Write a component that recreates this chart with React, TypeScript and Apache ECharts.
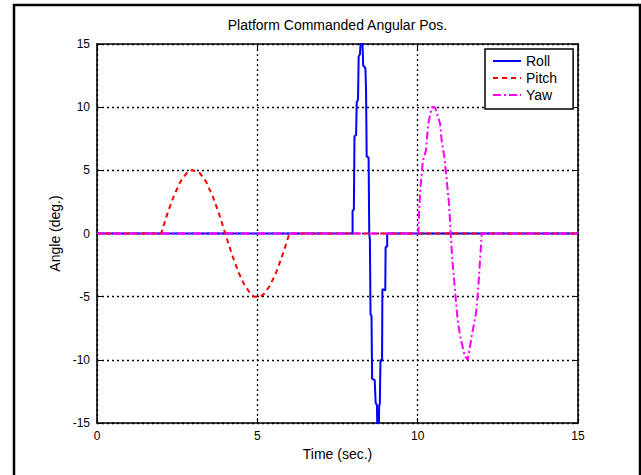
import React, { useEffect, useRef } from "react";
import * as echarts from "echarts";

const xTicks = [0, 5, 10, 15];
const yTicks = [-15, -10, -5, 0, 5, 10, 15];

const rollTime = [0, 7.97, 7.97, 8.01, 8.03, 8.08, 8.1, 8.14, 8.16, 8.2, 8.22, 8.28, 8.3, 8.37, 8.39, 8.41, 8.47, 8.49, 8.51, 8.53, 8.56, 8.58, 8.66, 8.69, 8.73, 8.74, 8.79, 8.8, 8.82, 8.84, 8.89, 8.9, 8.99, 9.0, 9.05, 9.05, 15];
const rollAngle = [0, 0, 1.8, 1.9, 7.7, 7.8, 10.4, 10.6, 14.0, 14.2, 15, 15, 13.3, 13.1, 11.4, 6.1, 6.0, 0, -0.5, -6.4, -6.5, -11.5, -11.6, -13.4, -13.6, -15.2, -15.2, -13.6, -13.5, -10.0, -10.1, -4.4, -4.5, -1.1, -1.0, 0, 0];

const pitchTime = [0, 2.0, 2.2, 2.4, 2.6, 2.8, 2.9, 3.0, 3.2, 3.4, 3.6, 3.8, 4.0, 4.2, 4.4, 4.6, 4.8, 4.9, 5.0, 5.1, 5.2, 5.4, 5.6, 5.8, 6.0, 15];
const pitchAngle = [0, 0, 1.6, 3.0, 4.1, 4.8, 5.0, 5.0, 4.8, 4.1, 3.0, 1.6, 0, -1.6, -3.0, -4.1, -4.8, -5.0, -5.0, -5.0, -4.8, -4.1, -3.0, -1.6, 0, 0];

const yawTime = [0, 10.02, 10.05, 10.09, 10.16, 10.26, 10.33, 10.44, 10.54, 10.7, 10.75, 10.83, 10.9, 10.98, 11.03, 11.08, 11.16, 11.24, 11.32, 11.47, 11.56, 11.68, 11.82, 11.89, 11.94, 12.0, 15];
const yawAngle = [0, 0, 2.0, 3.7, 5.7, 6.6, 8.7, 10.0, 10.0, 8.7, 7.3, 6.1, 4.4, 2.3, 0, -2.05, -4.4, -6.65, -8.1, -9.7, -10.0, -8.2, -6.3, -4.3, -2.3, 0, 0];

const FONT = "'Liberation Sans', Arial, sans-serif";

function pairs(t: number[], v: number[]) {
  return t.map((x, i) => [x, v[i]]);
}

export default function App() {
  const ref = useRef<HTMLDivElement>(null);
  useEffect(() => {
    if (!ref.current) return;
    const chart = echarts.init(ref.current, undefined, { renderer: "svg" });
    const axisLine = { show: true, onZero: false, lineStyle: { color: "#000", width: 1.6 } };
    const tick = { show: true, inside: true, length: 5, lineStyle: { color: "#000", width: 1 } };
    const grid = { show: true, lineStyle: { color: "#000", width: 1.3, type: [2, 3] } };
    chart.setOption({
      animation: false,
      backgroundColor: "#fff",
      title: {
        text: "Platform Commanded Angular Pos.",
        left: 337.5,
        top: 18,
        textAlign: "center",
        padding: 0,
        textStyle: { fontFamily: FONT, fontSize: 14, fontWeight: "normal", color: "#000" },
      },
      legend: {
        left: 485,
        top: 49,
        orient: "vertical",
        backgroundColor: "#fff",
        borderColor: "#000",
        borderWidth: 1.5,
        borderRadius: 0,
        padding: [5, 16, 7, 7],
        itemWidth: 28,
        itemHeight: 14,
        itemGap: 3,
        itemStyle: { color: "rgba(0,0,0,0)", borderWidth: 0, borderColor: "rgba(0,0,0,0)" },
        textStyle: { fontFamily: FONT, fontSize: 14, color: "#000" },
        data: ["Roll", "Pitch", "Yaw"],
      },
      grid: { left: 97, right: 63, top: 44, bottom: 52, containLabel: false },
      xAxis: [
        {
          type: "value",
          min: 0,
          max: 15,
          interval: 5,
          position: "bottom",
          name: "Time (sec.)",
          nameLocation: "middle",
          nameGap: 24,
          nameTextStyle: { fontFamily: FONT, fontSize: 14, color: "#000" },
          axisLine,
          axisTick: tick,
          axisLabel: { fontFamily: FONT, fontSize: 12, color: "#000", margin: 7, formatter: (v: number) => (xTicks.includes(v) ? String(v) : "") },
          splitLine: grid,
        },
        {
          type: "value",
          min: 0,
          max: 15,
          interval: 5,
          position: "top",
          axisLine,
          axisTick: tick,
          axisLabel: { show: false },
          splitLine: { show: false },
        },
      ],
      yAxis: [
        {
          type: "value",
          min: -15,
          max: 15,
          interval: 5,
          position: "left",
          name: "Angle (deg.)",
          nameLocation: "middle",
          nameRotate: 90,
          nameGap: 33,
          nameTextStyle: { fontFamily: FONT, fontSize: 14, color: "#000" },
          axisLine,
          axisTick: tick,
          axisLabel: { fontFamily: FONT, fontSize: 12, color: "#000", margin: 7, formatter: (v: number) => (yTicks.includes(v) ? String(v) : "") },
          splitLine: grid,
        },
        {
          type: "value",
          min: -15,
          max: 15,
          interval: 5,
          position: "right",
          axisLine,
          axisTick: tick,
          axisLabel: { show: false },
          splitLine: { show: false },
        },
      ],
      graphic: [
        {
          type: "rect",
          shape: { x: 14, y: 5, width: 626, height: 500 },
          style: { fill: "none", stroke: "#000", lineWidth: 2.5 },
          silent: true,
          z: 100,
        },
      ],
      series: [
        {
          name: "Roll",
          type: "line",
          data: pairs(rollTime, rollAngle),
          showSymbol: false,
          symbol: "none",
          lineStyle: { color: "#0000ff", width: 2, type: "solid" },
          itemStyle: { color: "#0000ff" },
        },
        {
          name: "Pitch",
          type: "line",
          data: pairs(pitchTime, pitchAngle),
          showSymbol: false,
          symbol: "none",
          lineStyle: { color: "#ff0000", width: 2, type: [5, 4] },
          itemStyle: { color: "#ff0000" },
        },
        {
          name: "Yaw",
          type: "line",
          data: pairs(yawTime, yawAngle),
          showSymbol: false,
          symbol: "none",
          lineStyle: { color: "#ff00ff", width: 2, type: [8, 3, 2, 3] },
          itemStyle: { color: "#ff00ff" },
        },
      ],
    });
    return () => chart.dispose();
  }, []);
  return (
    <div
      ref={ref}
      style={{ position: "absolute", left: 0, top: 0, width: 641, height: 475, background: "#fff" }}
    />
  );
}
